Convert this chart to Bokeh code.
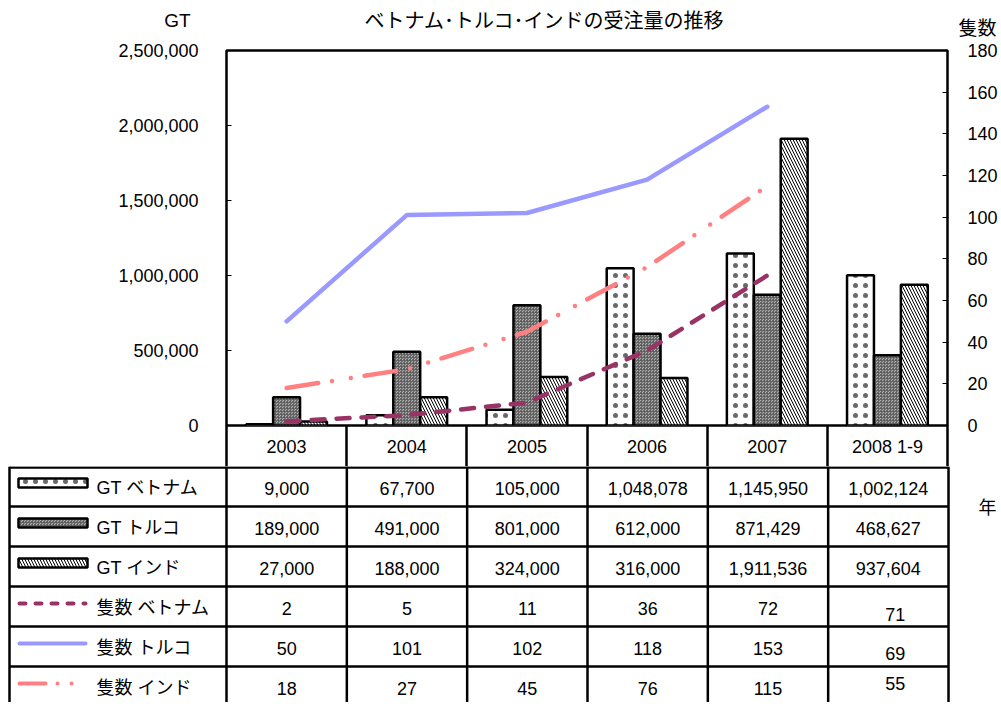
from bokeh.plotting import figure
from bokeh.models import Range1d, LinearAxis, FixedTicker, NumeralTickFormatter, ColumnDataSource
from bokeh.transform import dodge
from bokeh.embed import file_html
from bokeh.resources import INLINE
from bokeh.core.properties import value

# ---------------- data ----------------
years = ["2003", "2004", "2005", "2006", "2007", "2008 1-9"]
gt_vietnam = [9000, 67700, 105000, 1048078, 1145950, 1002124]
gt_turkey = [189000, 491000, 801000, 612000, 871429, 468627]
gt_india = [27000, 188000, 324000, 316000, 1911536, 937604]
cnt_vietnam = [2, 5, 11, 36, 72, 71]
cnt_turkey = [50, 101, 102, 118, 153, 69]
cnt_india = [18, 27, 45, 76, 115, 55]
row_labels = ["GT ベトナム", "GT トルコ", "GT インド", "隻数 ベトナム", "隻数 トルコ", "隻数 インド"]
left_ticks = [0, 500000, 1000000, 1500000, 2000000, 2500000]
right_ticks = [0, 20, 40, 60, 80, 100, 120, 140, 160, 180]
title_text = "ベトナム･トルコ･インドの受注量の推移"
left_title, right_title, table_unit = "GT", "隻数", "年"
n_line_pts = 5  # lines drawn for 2003-2007 only

# ---------------- styles ----------------
FONT = "Liberation Sans, Noto Sans CJK JP"
JFONT = "Noto Sans CJK JP"
FS = "18px"
C_VN, C_TR, C_IN = "#993366", "#9999FF", "#FF8080"
bar_styles = [
    dict(fill_color="white", hatch_pattern="dot", hatch_scale=10, hatch_color="#444444",
         hatch_weight=0.6, hatch_alpha=0.8),
    dict(fill_color="#b0b0b0", hatch_pattern="criss_cross", hatch_scale=3, hatch_color="#5a5a5a", hatch_weight=0.8),
    dict(fill_color="white", hatch_pattern="left_diagonal_line", hatch_scale=6, hatch_color="black", hatch_weight=1),
]
line_styles = [
    dict(line_color=C_VN, line_width=4.5, line_dash="13 12"),
    dict(line_color=C_TR, line_width=4.5, line_dash="solid"),
    dict(line_color=C_IN, line_width=4.5, line_dash="32 14 0 19 0 14"),
]
legend_line_dash = ["6 10", "solid", "26 12 0 14 0 14"]

W = 1000
n = len(years)
pos = [i + 0.5 for i in range(n)]  # category centres on the x scale
HEAD = 40


def blank(height, y0, y1):
    f = figure(width=W, height=height, x_range=Range1d(0, W), y_range=Range1d(y1, y0),
               output_backend="svg", toolbar_location=None,
               x_axis_location=None, y_axis_location=None, min_border=0)
    f.grid.visible = False
    f.outline_line_color = None
    return f


# ---------------- header strip (titles) ----------------
h = blank(HEAD, 0, HEAD)
h.text(x=[544], y=[19], text=[title_text], text_align="center", text_baseline="middle",
       text_font=value(JFONT), text_font_size="20px", text_color="black")
h.text(x=[177], y=[20], text=[left_title], text_align="center", text_baseline="middle",
       text_font=value(FONT), text_font_size="19px", text_color="black")
h.text(x=[977], y=[26], text=[right_title], text_align="center", text_baseline="middle",
       text_font=value(JFONT), text_font_size="19px", text_color="black")

# ---------------- main chart ----------------
p = figure(width=W, height=466 - HEAD,
           x_range=Range1d(0, n), y_range=Range1d(0, 2500000),
           output_backend="svg", toolbar_location=None,
           min_border_left=226, min_border_right=52,
           min_border_top=50 - HEAD, min_border_bottom=41)
p.extra_y_ranges = {"cnt": Range1d(0, 180)}
p.grid.visible = False
p.outline_line_color = "black"
p.outline_line_width = 2.5
p.background_fill_color = "white"

ly = p.yaxis[0]
ly.ticker = FixedTicker(ticks=left_ticks)
ly.formatter = NumeralTickFormatter(format="0,0")

ry = LinearAxis(y_range_name="cnt", ticker=FixedTicker(ticks=right_ticks))
p.add_layout(ry, "right")

for ax, standoff in ((ly, 28), (ry, 20)):
    ax.axis_line_color = None
    ax.major_tick_in = 5
    ax.major_tick_out = 0
    ax.major_tick_line_color = "black"
    ax.minor_tick_line_color = None
    ax.major_label_standoff = standoff
    ax.major_label_text_font = FONT
    ax.major_label_text_font_size = FS
    ax.major_label_text_color = "black"

bx = p.xaxis[0]
bx.ticker = FixedTicker(ticks=pos, minor_ticks=list(range(n + 1)))
bx.major_label_overrides = {c: y for c, y in zip(pos, years)}
bx.axis_line_color = None
bx.major_tick_in = 0
bx.major_tick_out = 0
bx.minor_tick_in = 0
bx.minor_tick_out = 41
bx.minor_tick_line_width = 2.5
bx.minor_tick_line_color = "black"
bx.major_label_standoff = -30
bx.major_label_text_font = FONT
bx.major_label_text_font_size = FS
bx.major_label_text_color = "black"

src = ColumnDataSource(dict(pos=pos, vn=gt_vietnam, tr=gt_turkey, ind=gt_india))
bw = 0.224
for key, off, st in (("vn", -bw, bar_styles[0]), ("tr", 0, bar_styles[1]), ("ind", bw, bar_styles[2])):
    p.vbar(x=dodge("pos", off), top=key, width=bw, source=src,
           line_color="black", line_width=2.5, **st)

for vals, st in zip((cnt_vietnam, cnt_turkey, cnt_india), line_styles):
    p.line(x=pos[:n_line_pts], y=vals[:n_line_pts], y_range_name="cnt",
           line_cap="round", line_join="round", **st)

# ---------------- data table ----------------
t = blank(236, 466, 702)

tab_left, col0, colw = 9, 226, 722 / n
row0, rowh = 466, 40
table_rows = [gt_vietnam, gt_turkey, gt_india, cnt_vietnam, cnt_turkey, cnt_india]
cell_shift = {(3, 5): (7, 6), (4, 5): (7, 5), (5, 5): (7, -5)}

xs, ys, txt = [], [], []
for r, vals in enumerate(table_rows):
    for c, v in enumerate(vals):
        dx, dy = cell_shift.get((r, c), (0, 0))
        xs.append(col0 + (c + 0.5) * colw + dx)
        ys.append(row0 + (r + 0.5) * rowh + 2 + dy)
        txt.append(f"{v:,}")
t.text(x=xs, y=ys, text=txt, text_align="center", text_baseline="middle",
       text_font=value(FONT), text_font_size=FS, text_color="black")

t.text(x=[96] * len(row_labels), y=[row0 + (r + 0.5) * rowh + 1 for r in range(len(row_labels))],
       text=row_labels, text_align="left", text_baseline="middle",
       text_font=value(FONT), text_font_size=FS, text_color="black")

for r, st in enumerate(bar_styles):
    t.rect(x=[52.5], y=[row0 + r * rowh + 16.5], width=69, height=9,
           line_color="black", line_width=2.5, **st)
for r, (st, dsh) in enumerate(zip(line_styles, legend_line_dash)):
    s2 = dict(st)
    s2["line_dash"] = dsh
    s2["line_width"] = 4
    yy = row0 + (r + 3) * rowh + 17
    t.line(x=[19, 85], y=[yy, yy], line_cap="round", **s2)

hy = [row0 + 1] + [row0 + k * rowh for k in range(1, len(row_labels))]
t.segment(x0=[tab_left] * len(hy), y0=hy, x1=[col0 + n * colw] * len(hy), y1=hy,
          line_color="black", line_width=2.5)
vx = [tab_left] + [col0 + k * colw for k in range(n + 1)]
t.segment(x0=vx, y0=[row0] * len(vx), x1=vx, y1=[710] * len(vx),
          line_color="black", line_width=2.5)

t.text(x=[987], y=[505], text=[table_unit], text_align="center", text_baseline="middle",
       text_font=value(JFONT), text_font_size=FS, text_color="black")

open("out.html", "w").write(file_html([h, p, t], INLINE))
